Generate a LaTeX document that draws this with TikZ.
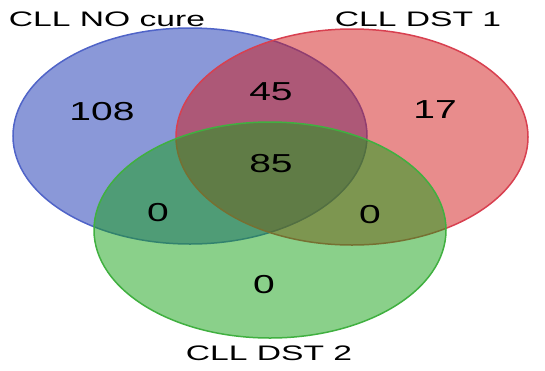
\documentclass[tikz,border=0pt]{standalone}
\usepackage{fontspec}
\setmainfont{Liberation Sans}
\definecolor{cllblue}{RGB}{21,49,177}
\definecolor{cllred}{RGB}{209,25,25}
\definecolor{cllgreen}{RGB}{21,161,21}
\definecolor{edgeblue}{RGB}{80,100,200}
\definecolor{edgered}{RGB}{216,64,80}
\definecolor{edgegreen}{RGB}{64,176,64}
\tikzset{
  setlabel/.style={font=\fontsize{21}{21}\selectfont, xscale=1.6, inner sep=0pt},
  setcount/.style={font=\fontsize{26}{26}\selectfont, xscale=1.5, inner sep=0pt},
  setshape/.style={line width=1.5pt, fill opacity=0.5}
}
\begin{document}
\begin{tikzpicture}[x=1pt, y=-1pt]
  \useasboundingbox (0,0) rectangle (545,370);
  % the three sets
  \draw[setshape, draw=edgeblue, fill=cllblue] (190,136) ellipse [x radius=177, y radius=108];
  \draw[setshape, draw=edgered, fill=cllred] (352,137) ellipse [x radius=176, y radius=108];
  \draw[setshape, draw=edgegreen, fill=cllgreen] (270,230) ellipse [x radius=176, y radius=108];
  % set names
  \node[setlabel] (noCure) at (107,19) {CLL NO cure};
  \node[setlabel] (dstOne) at (418,19) {CLL DST 1};
  \node[setlabel] (dstTwo) at (269,353) {CLL DST 2};
  % counts
  \node[setcount] (onlyNoCure) at (102,112) {108};
  \node[setcount] (onlyDstOne) at (435,110) {17};
  \node[setcount] (noCureDstOne) at (271,92) {45};
  \node[setcount] (allThree) at (271,164) {85};
  \node[setcount] (noCureDstTwo) at (158,213) {0};
  \node[setcount] (dstOneDstTwo) at (370,215) {0};
  \node[setcount] (onlyDstTwo) at (264,285) {0};
\end{tikzpicture}
\end{document}
